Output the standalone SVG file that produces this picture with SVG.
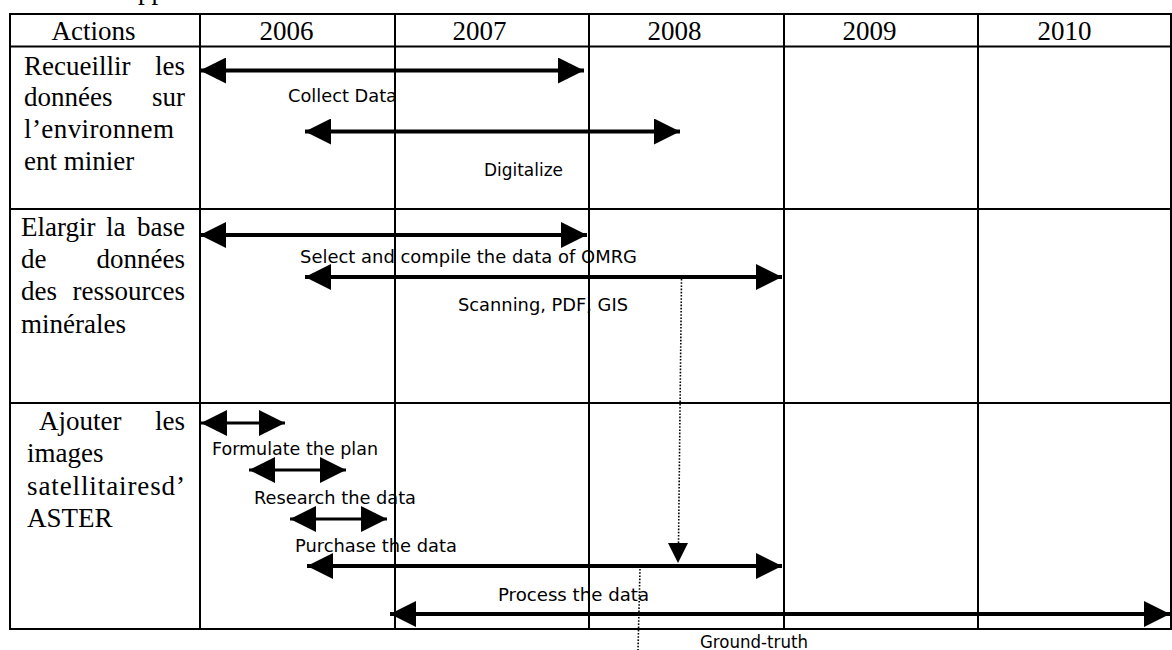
<svg xmlns="http://www.w3.org/2000/svg" width="1172" height="650" viewBox="0 0 1172 650">
  <style>
    .grid { fill: none; stroke: #000; stroke-width: 2; }
    .serif { font-family: "Liberation Serif", "Times New Roman", serif; font-size: 27px; fill: #000; }
    .sans { font-family: "DejaVu Sans", "Liberation Sans", sans-serif; font-size: 18px; fill: #000; }
    .bar { stroke: #000; stroke-width: 4; fill: none; marker-start: url(#head); marker-end: url(#head); }
    .bar-s { stroke: #000; stroke-width: 3.2; fill: none; marker-start: url(#head); marker-end: url(#head); }
    .dot { stroke: #000; stroke-width: 1.6; stroke-dasharray: 1.6 1.6; fill: none; }
  </style>
  <defs>
    <marker id="head" markerUnits="userSpaceOnUse" markerWidth="26" markerHeight="26" viewBox="0 0 25 25" refX="25" refY="12.5" orient="auto-start-reverse">
      <path d="M0,0 L25,12.5 L0,25 Z" fill="#000"/>
    </marker>
  </defs>

  <rect width="1172" height="650" fill="#fff"/>

  <!-- caption line running above the table (only its descenders are inside the page) -->
  <text class="serif" x="138" y="-1">pp</text>

  <!-- table grid -->
  <g id="grid" class="grid">
    <rect x="10" y="14" width="1161" height="615"/>
    <line x1="10" y1="46.5" x2="1171" y2="46.5"/>
    <line x1="10" y1="209" x2="1171" y2="209"/>
    <line x1="10" y1="403" x2="1171" y2="403"/>
    <line x1="200" y1="14" x2="200" y2="629"/>
    <line x1="395" y1="14" x2="395" y2="629"/>
    <line x1="589" y1="14" x2="589" y2="629"/>
    <line x1="784" y1="14" x2="784" y2="629"/>
    <line x1="978" y1="14" x2="978" y2="629"/>
  </g>

  <!-- header row -->
  <g id="header" class="serif" text-anchor="middle">
    <text x="93.5" y="40">Actions</text>
    <text x="286.5" y="40">2006</text>
    <text x="479.5" y="40">2007</text>
    <text x="674.5" y="40">2008</text>
    <text x="869.5" y="40">2009</text>
    <text x="1064.5" y="40">2010</text>
  </g>

  <!-- action 1 -->
  <g id="action-collect" class="serif">
    <text x="24" y="75">Recueillir</text>
    <text x="185" y="75" text-anchor="end">les</text>
    <text x="24" y="106">données</text>
    <text x="185" y="106" text-anchor="end">sur</text>
    <text x="24" y="138" textLength="150" lengthAdjust="spacing">l’environnem</text>
    <text x="24" y="170">ent minier</text>
  </g>

  <!-- action 2 -->
  <g id="action-database" class="serif">
    <text x="21" y="236">Elargir</text>
    <text x="106" y="236">la</text>
    <text x="185" y="236" text-anchor="end">base</text>
    <text x="21" y="268">de</text>
    <text x="185" y="268" text-anchor="end">données</text>
    <text x="21" y="300">des</text>
    <text x="185" y="300" text-anchor="end">ressources</text>
    <text x="21" y="333">minérales</text>
  </g>

  <!-- action 3 -->
  <g id="action-aster" class="serif">
    <text x="39" y="430">Ajouter</text>
    <text x="185" y="430" text-anchor="end">les</text>
    <text x="27" y="462">images</text>
    <text x="27" y="495" textLength="158" lengthAdjust="spacing">satellitairesd’</text>
    <text x="27" y="527">ASTER</text>
  </g>

  <!-- schedule bars and links -->
  <g id="connectors">
    <line class="bar" x1="200" y1="70.5" x2="584" y2="70.5"/>
    <line class="bar" x1="305" y1="131.5" x2="680" y2="131.5"/>
    <line class="bar" x1="200" y1="235" x2="587" y2="235"/>
    <line class="bar" x1="305" y1="277" x2="782" y2="277"/>
    <line class="bar-s" x1="201" y1="423" x2="285" y2="423"/>
    <line class="bar-s" x1="249" y1="470" x2="346" y2="470"/>
    <line class="bar-s" x1="290" y1="519" x2="387" y2="519"/>
    <line class="bar" x1="307" y1="566" x2="782" y2="566"/>
    <line class="bar" x1="390" y1="614" x2="1170" y2="614"/>

    <line class="dot" x1="681.5" y1="279" x2="678.5" y2="544"/>
    <path d="M668,543 L688,543 L678,563 Z" fill="#000"/>
    <line class="dot" x1="640" y1="569" x2="638" y2="650"/>
  </g>

  <!-- bar labels -->
  <g id="bar-labels" class="sans">
    <text x="288" y="102" textLength="109" lengthAdjust="spacingAndGlyphs">Collect Data</text>
    <text x="484" y="176" textLength="79" lengthAdjust="spacingAndGlyphs">Digitalize</text>
    <text x="300" y="263" textLength="337" lengthAdjust="spacingAndGlyphs">Select and compile the data of OMRG</text>
    <text x="458" y="311" textLength="170" lengthAdjust="spacingAndGlyphs">Scanning, PDF, GIS</text>
    <text x="212" y="455" textLength="166" lengthAdjust="spacingAndGlyphs">Formulate the plan</text>
    <text x="254" y="504" textLength="162" lengthAdjust="spacingAndGlyphs">Research the data</text>
    <text x="295" y="552" textLength="162" lengthAdjust="spacingAndGlyphs">Purchase the data</text>
    <text x="498" y="601" textLength="151" lengthAdjust="spacingAndGlyphs">Process the data</text>
    <text x="700" y="648" textLength="108" lengthAdjust="spacingAndGlyphs">Ground-truth</text>
  </g>
</svg>
